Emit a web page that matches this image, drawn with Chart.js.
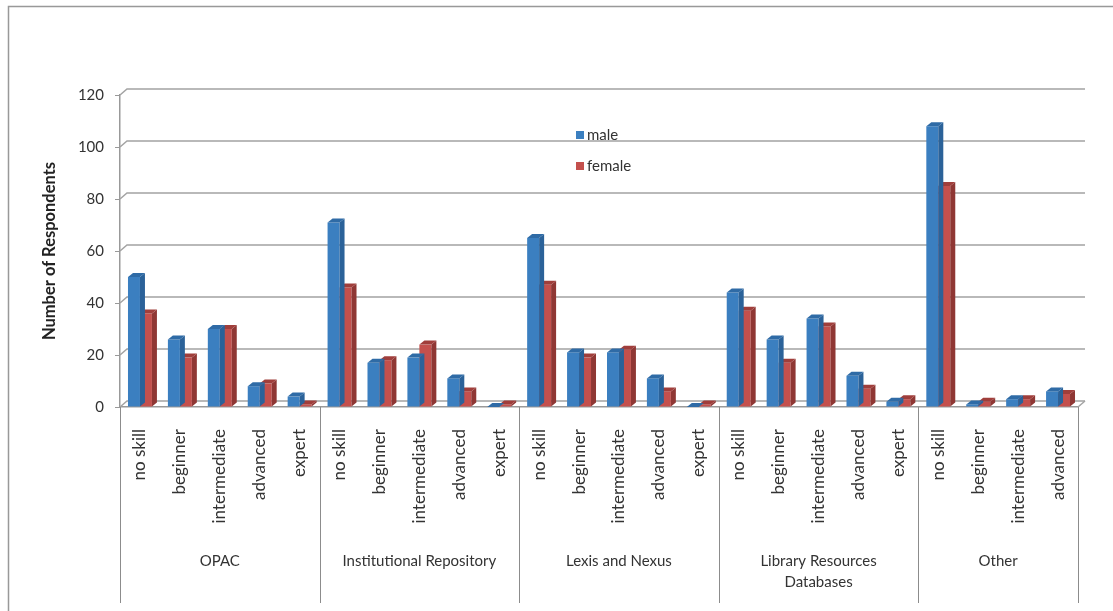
<!DOCTYPE html>
<html>
<head>
<meta charset="utf-8">
<script src="https://cdn.jsdelivr.net/npm/chart.js@4.4.1/dist/chart.umd.min.js"></script>
<style>
    html, body { margin: 0; padding: 0; background: #fff; }
    #wrap { width: 1113px; height: 611px; }
</style>
</head>
<body>
<div id="wrap"><canvas id="chart" width="1113" height="611"></canvas></div>
<script>
var groups = ['OPAC', 'Institutional Repository', 'Lexis and Nexus', 'Library Resources\nDatabases', 'Other'];
var groupSizes = [5, 5, 5, 5, 4];
var levels = [
    'no skill', 'beginner', 'intermediate', 'advanced', 'expert',
    'no skill', 'beginner', 'intermediate', 'advanced', 'expert',
    'no skill', 'beginner', 'intermediate', 'advanced', 'expert',
    'no skill', 'beginner', 'intermediate', 'advanced', 'expert',
    'no skill', 'beginner', 'intermediate', 'advanced'
];
var male   = [50, 26, 30, 8, 4,  71, 17, 19, 11, 0,  65, 21, 21, 11, 0,  44, 26, 34, 12, 2,  108, 1, 3, 6];
var female = [36, 19, 30, 9, 1,  46, 18, 24, 6, 1,   47, 19, 22, 6, 1,   37, 17, 31, 7, 3,   85, 2, 3, 5];
var yTicks = [0, 20, 40, 60, 80, 100, 120];

var FONT = 'Lato, "Liberation Sans", sans-serif';
var sideColors = ['#2b6299', '#8f3734'];
var topColors = ['#2f6ba6', '#a03e3b'];

// frame, back wall grid and floor
var wallPlugin = {
    id: 'wall',
    beforeDraw: function(chart) {
        var ctx = chart.ctx;
        ctx.save();
        ctx.fillStyle = '#fff';
        ctx.fillRect(0, 0, chart.width, chart.height);
        ctx.strokeStyle = '#999';
        ctx.lineWidth = 1.5;
        ctx.beginPath();
        ctx.moveTo(8.5, chart.height);
        ctx.lineTo(8.5, 6.5);
        ctx.lineTo(chart.width, 6.5);
        ctx.stroke();
        ctx.restore();
    },
    beforeDatasetsDraw: function(chart) {
        var ctx = chart.ctx, y = chart.scales.y, a = chart.chartArea;
        var dx = 7, dy = 6;
        ctx.save();
        ctx.strokeStyle = '#a3a3a3';
        ctx.lineWidth = 1.5;
        yTicks.forEach(function(v) {
            var py = y.getPixelForValue(v);
            ctx.beginPath();
            ctx.moveTo(a.left, py);
            ctx.lineTo(a.left + dx, py - dy);
            ctx.lineTo(a.right + dx, py - dy);
            ctx.stroke();
        });
        ctx.beginPath();
        ctx.moveTo(a.right, a.bottom);
        ctx.lineTo(a.right + dx, a.bottom - dy);
        ctx.stroke();
        ctx.restore();
    }
};

// side and top faces of every bar
var depthPlugin = {
    id: 'depth',
    afterDatasetDraw: function(chart, args) {
        var ctx = chart.ctx, dx = 5, dy = 4;
        var i = args.index;
        ctx.save();
        args.meta.data.forEach(function(bar) {
            var l = bar.x - bar.width / 2, r = bar.x + bar.width / 2;
            ctx.fillStyle = sideColors[i];
            ctx.beginPath();
            ctx.moveTo(r, bar.y);
            ctx.lineTo(r + dx, bar.y - dy);
            ctx.lineTo(r + dx, bar.base - dy);
            ctx.lineTo(r, bar.base);
            ctx.closePath();
            ctx.fill();
            ctx.fillStyle = topColors[i];
            ctx.beginPath();
            ctx.moveTo(l, bar.y);
            ctx.lineTo(l + dx, bar.y - dy);
            ctx.lineTo(r + dx, bar.y - dy);
            ctx.lineTo(r, bar.y);
            ctx.closePath();
            ctx.fill();
        });
        ctx.restore();
    }
};

// group separators and group names under the level labels
var groupPlugin = {
    id: 'groups',
    afterDraw: function(chart) {
        var ctx = chart.ctx, a = chart.chartArea;
        var catW = (a.right - a.left) / levels.length;
        var start = 0;
        ctx.save();
        ctx.strokeStyle = '#8c8c8c';
        ctx.lineWidth = 1;
        ctx.fillStyle = '#333';
        ctx.font = '15px ' + FONT;
        ctx.textAlign = 'center';
        ctx.textBaseline = 'middle';
        var edges = [a.left];
        groups.forEach(function(g, k) {
            var left = a.left + start * catW;
            var right = left + groupSizes[k] * catW;
            edges.push(right);
            g.split('\n').forEach(function(t, j) {
                ctx.fillText(t, (left + right) / 2, 561 + j * 21);
            });
            start += groupSizes[k];
        });
        edges.forEach(function(ex) {
            var px = Math.round(ex) + 0.5;
            ctx.beginPath();
            ctx.moveTo(px, a.bottom);
            ctx.lineTo(px, 603);
            ctx.stroke();
        });
        ctx.restore();
    }
};

// legend placed inside the plot
var legendPlugin = {
    id: 'insideLegend',
    afterDraw: function(chart) {
        var ctx = chart.ctx;
        ctx.save();
        ctx.font = '15px ' + FONT;
        ctx.textBaseline = 'middle';
        chart.data.datasets.forEach(function(ds, i) {
            var y = 135 + i * 31;
            ctx.fillStyle = ds.backgroundColor;
            ctx.fillRect(576, y - 4, 8, 8);
            ctx.fillStyle = '#333';
            ctx.fillText(ds.label, 587, y);
        });
        ctx.restore();
    }
};

new Chart(document.getElementById('chart'), {
    type: 'bar',
    data: {
        labels: levels,
        datasets: [{
            label: 'male',
            data: male,
            backgroundColor: '#3b7fc0'
        }, {
            label: 'female',
            data: female,
            backgroundColor: '#c4504d'
        }]
    },
    options: {
        responsive: false,
        animation: false,
        categoryPercentage: 0.6,
        barPercentage: 1.0,
        layout: {
            padding: { top: 95, right: 35, left: 0, bottom: 0 }
        },
        plugins: {
            legend: { display: false },
            tooltip: { enabled: false }
        },
        scales: {
            x: {
                grid: { display: false },
                border: { display: true, color: '#999', width: 1.5 },
                ticks: {
                    autoSkip: false,
                    minRotation: 90,
                    maxRotation: 90,
                    padding: 14,
                    color: '#333',
                    font: { family: FONT, size: 17 }
                },
                afterFit: function(s) { s.height = 204; }
            },
            y: {
                min: 0,
                max: 120,
                ticks: {
                    stepSize: 20,
                    padding: 11,
                    color: '#333',
                    font: { family: FONT, size: 15 }
                },
                grid: { drawOnChartArea: false, tickLength: 5, color: '#999' },
                border: { color: '#999', width: 1.5 },
                title: {
                    display: true,
                    text: 'Number of Respondents',
                    color: '#222',
                    padding: { top: 40, bottom: 0 },
                    font: { family: FONT, size: 16.5, weight: 'bold' }
                },
                afterFit: function(s) { s.width = 120; }
            }
        }
    },
    plugins: [wallPlugin, depthPlugin, groupPlugin, legendPlugin]
});
</script>
</body>
</html>
